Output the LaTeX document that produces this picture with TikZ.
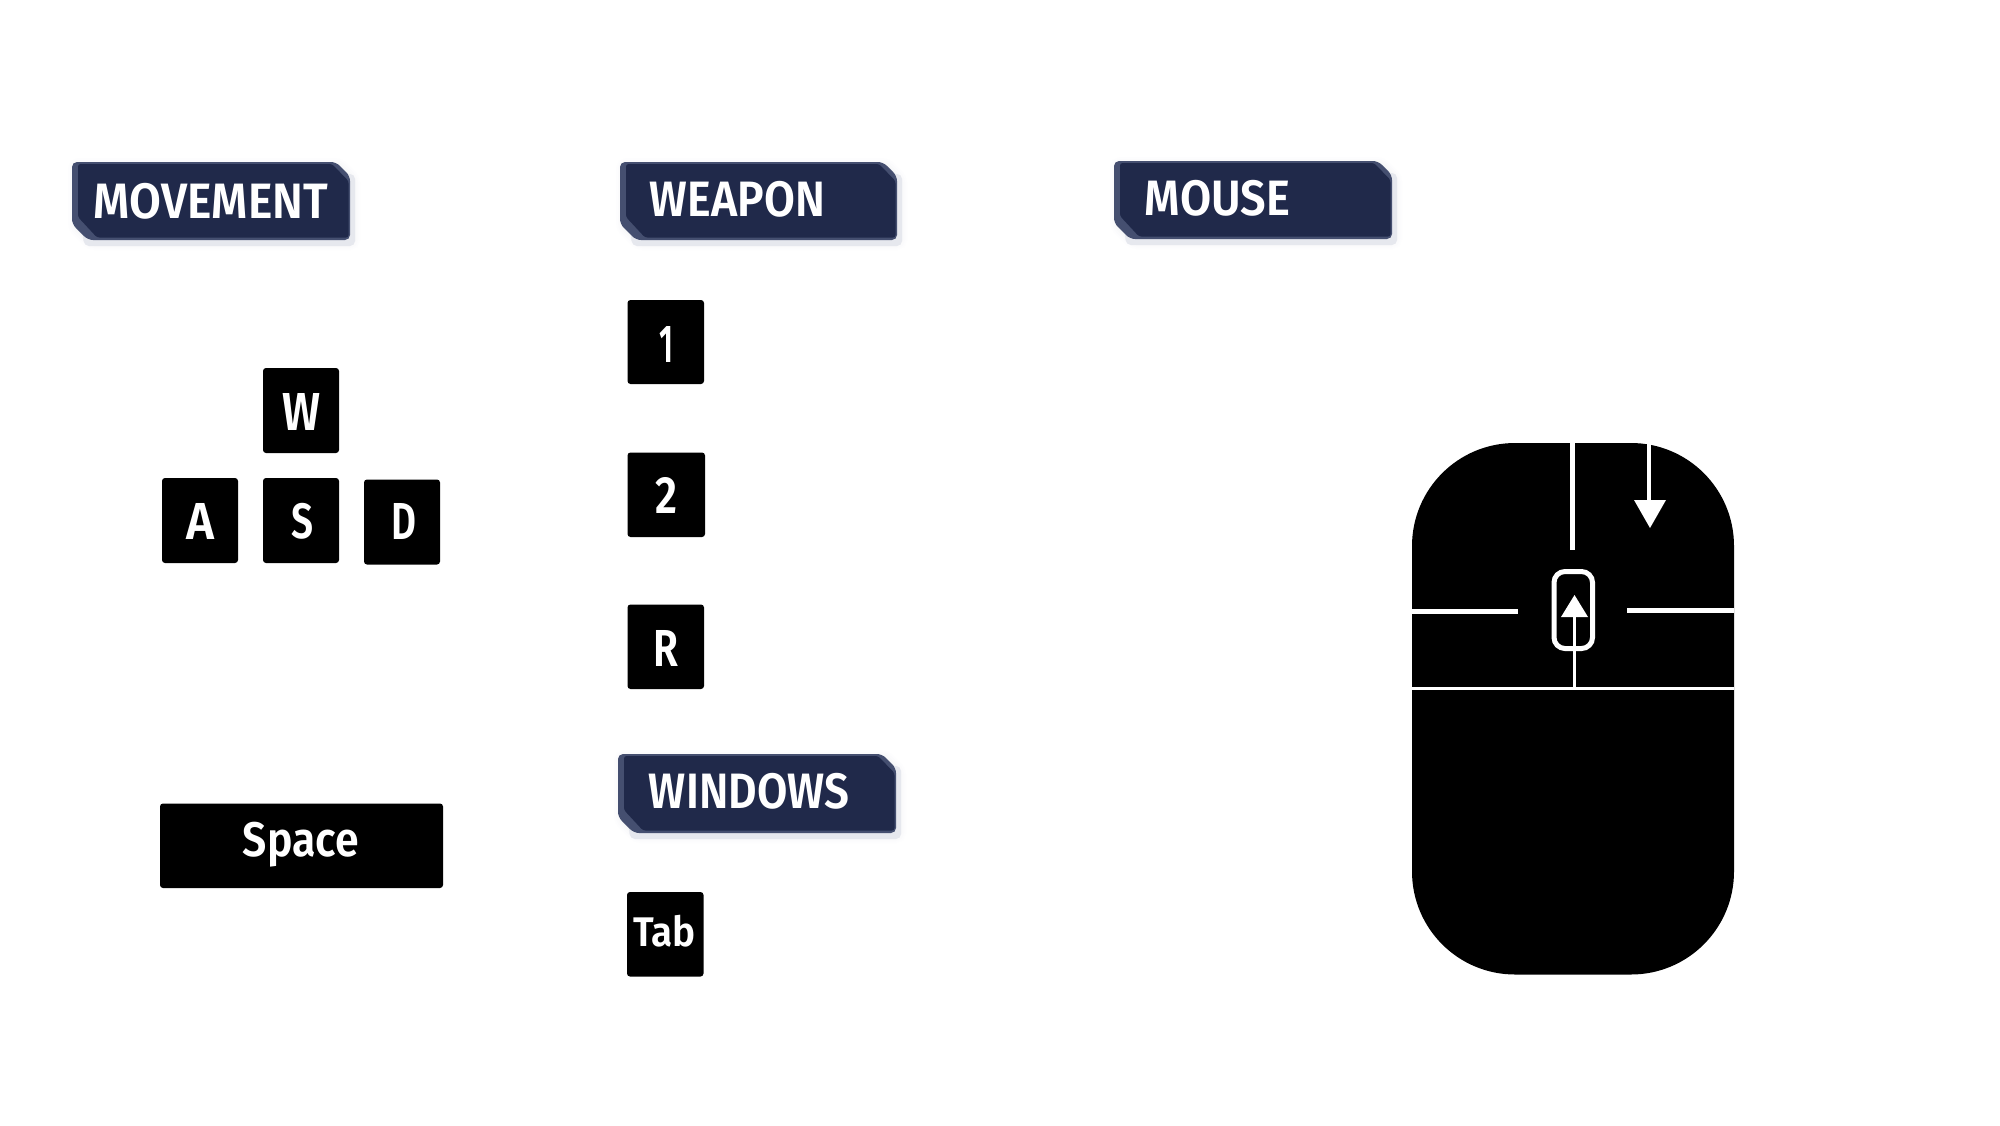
\documentclass[tikz,border=0pt]{standalone}
\usepackage{fontspec}
\usepackage{graphicx}
\setmainfont{Fira Sans}[UprightFont=* SemiBold,BoldFont=* Bold]
\definecolor{bannerdark}{HTML}{20294A}
\definecolor{bannerlite}{HTML}{454F70}
\definecolor{bannerglow}{HTML}{E6E8EE}
\newcommand{\fitt}[3]{\resizebox*{#1pt}{#2pt}{#3}}
\tikzset{
 x=1pt,y=-1pt,
 keybox/.style={fill=black,rounded corners=3pt},
 keytext/.style={text=white,inner sep=0pt,outer sep=0pt},
 bannertext/.style={text=white,inner sep=0pt,outer sep=0pt},
 cutline/.style={draw=white,line width=5pt},
 thinline/.style={draw=white,line width=3pt},
}
\newcommand{\bannershape}[4]{(#1,#2) -- (#3-14,#2) -- (#3,#2+14) -- (#3,#4) -- (#1+16,#4) -- (#1,#4-16) -- cycle}
\newcommand{\banner}[4]{% x1 y1 x2 y2
 \foreach \w/\o in {14/0.05,10/0.08,6/0.10,2/0.14}{
  \fill[bannerglow,opacity=\o,draw=bannerglow,line width=\w pt,rounded corners=4pt] (#1+3,#2+3) -- (#3-11,#2+3) -- (#3+3,#2+17) -- (#3+3,#4+3) -- (#1+19,#4+3) -- (#1+3,#4-13) -- cycle;}
 \fill[bannerglow,rounded corners=5pt] (#1+5,#2+12) -- (#3+5,#2+12) -- (#3+5,#4+6) -- (#1+12,#4+6) -- cycle;
 \fill[bannerlite,rounded corners=5pt] \bannershape{#1}{#2}{#3}{#4};
 \fill[bannerdark,rounded corners=2.5pt] (#1+6,#2+2) -- (#3-18,#2+2) -- (#3-1.5,#2+19) -- (#3-1.5,#4-2.5) -- (#1+25,#4-2.5) -- (#1+6,#4-23) -- cycle;
}
\begin{document}
\begin{tikzpicture}
\useasboundingbox (0,0) rectangle (2000,1125);
\fill[white] (0,0) rectangle (2000,1125);
\banner{72}{162}{350}{240}
\banner{620}{162}{897}{240}
\banner{1114}{161}{1392}{239}
\banner{618}{754}{896}{833}
\node[bannertext] (tmove) at (211,201) {\fitt{234}{36}{MOVEMENT}};
\node[bannertext] (tweap) at (737.5,199) {\fitt{175}{36}{WEAPON}};
\node[bannertext] (tmous) at (1217.5,198) {\fitt{145}{36}{MOUSE}};
\node[bannertext] (twind) at (749,791.5) {\fitt{200}{36}{WINDOWS}};
\fill[keybox] (263,368) rectangle (339,453);
\fill[keybox] (162,478) rectangle (238,563);
\fill[keybox] (263,478) rectangle (339,563);
\fill[keybox] (364,479.5) rectangle (440,564.5);
\fill[keybox] (627.5,300) rectangle (704,384);
\fill[keybox] (627.5,452.5) rectangle (705,537);
\fill[keybox] (627.5,604.5) rectangle (704,689);
\fill[keybox] (627,892) rectangle (703.5,976.5);
\fill[keybox] (160,803.5) rectangle (443,888);
\node[keytext] (kw) at (302,411.5) {\fitt{38}{37}{W}};
\node[keytext] (ka) at (200,521) {\fitt{28}{36}{A}};
\node[keytext] (ks) at (302,521) {\fitt{22}{36}{S}};
\node[keytext] (kd) at (403.5,521) {\fitt{25}{36}{D}};
\node[keytext] (k1) at (666,344) {\fitt{14}{36}{1}};
\node[keytext] (k2) at (666,495) {\fitt{22}{36}{2}};
\node[keytext] (kr) at (666,648) {\fitt{25}{36}{R}};
\node[keytext] (kt) at (664.5,931) {\fitt{63}{32}{Tab}};
\node[keytext] (ksp) at (301,844.5) {\fitt{116}{45}{Space}};
% mouse
\fill[black] (1412,546) arc[start angle=180,end angle=270,radius=103] -- (1631,443) arc[start angle=270,end angle=360,radius=103] -- (1734,871.5) arc[start angle=0,end angle=90,radius=103] -- (1515,974.5) arc[start angle=90,end angle=180,radius=103] -- cycle;
\draw[cutline] (1572.7,443) -- (1572.7,550);
\draw[cutline,line width=3.5pt] (1649,443) -- (1649,502);
\fill[white] (1634,500) -- (1666,500) -- (1650,528) -- cycle;
\draw[cutline] (1412,611) -- (1518,611);
\draw[cutline] (1627,610) -- (1734,610);
\draw[thinline] (1412,688) -- (1734,688);
\draw[thinline] (1574,688) -- (1574,615);
\fill[white] (1561,617) -- (1588,617) -- (1574.5,595) -- cycle;
\draw[cutline,rounded corners=11pt] (1554,571.5) rectangle (1592.5,648.5);
\end{tikzpicture}
\end{document}
